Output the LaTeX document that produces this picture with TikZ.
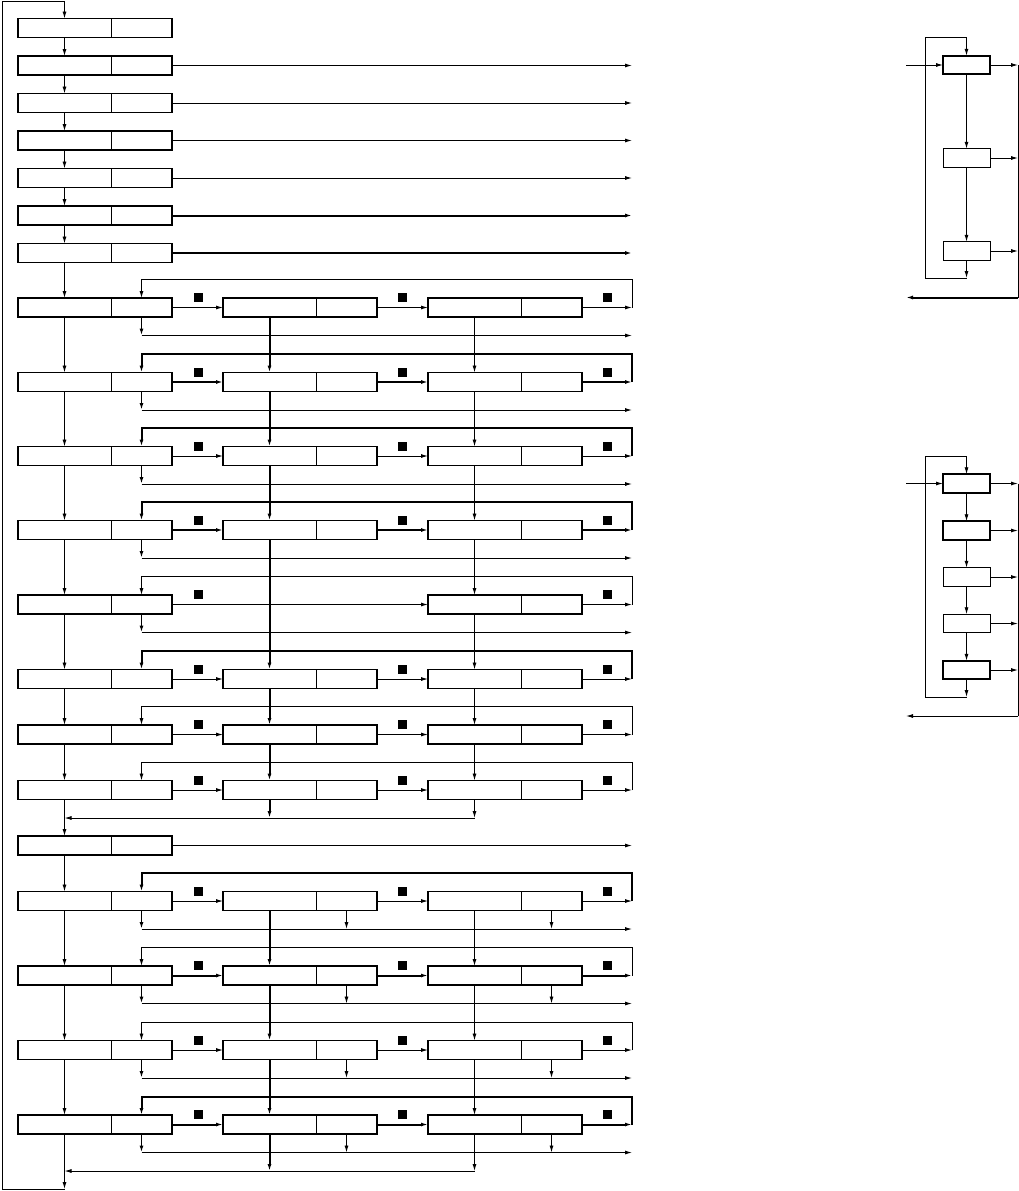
\documentclass[tikz,border=0pt]{standalone}
\usetikzlibrary{arrows.meta,calc}
\tikzset{
  x=1pt, y=-1pt,
  part/.style={draw, line width=0.8pt, minimum height=19pt, inner sep=0pt, outer sep=0pt, anchor=west},
  boxframe/.style={line width=1.3pt},
  ar/.style={-{Latex[length=7pt,width=4pt]}, line width=0.9pt},
  mar/.style={-{Latex[length=7pt,width=4pt]}, line width=1.4pt},
  tar/.style={-{Latex[length=7pt,width=4pt]}, line width=2pt},
  ln/.style={line width=0.9pt},
  tln/.style={line width=2pt},
  sq/.style={fill=black, minimum size=9pt, inner sep=0pt},
  rbox/.style={draw, minimum width=47pt, minimum height=18.5pt, inner sep=0pt, outer sep=0pt},
}
\newcommand\tbox[3]{%
  \node[part, minimum width=93pt] (#1a) at (#2,#3) {};
  \node[part, minimum width=61pt] (#1b) at (#1a.east) {};
  \draw[boxframe] (#1a.north west) rectangle (#1b.south east);
}
\newcommand\triorow[4]{%
  \tbox{S#1}{223}{#2}
  \tbox{T#1}{428}{#2}
  \draw[#3] (L#1b.east) -- (S#1a.west);
  \draw[#3] (S#1b.east) -- (T#1a.west);
  \draw[#3] (T#1b.east) -- (T#1b.east -| E);
  \draw[#4] (T#1b.east -| E) -- ++(0,-28) -| (L#1b.north);
  \node[sq] (qa#1) at (198,#2-10) {};
  \node[sq] (qb#1) at (402.5,#2-10) {};
  \node[sq] (qc#1) at (607,#2-10) {};
}
\newcommand\outrow[2]{%
  \coordinate (o#1) at (632,#2+28);
  \draw[mar] (L#1b.south) -- (L#1b.south |- o#1);
  \draw[ar] (L#1b.south |- o#1) -- (o#1);
}
\begin{document}
\begin{tikzpicture}
\useasboundingbox (0,0) rectangle (1019,1191);
\coordinate (E) at (632,0);
% ---------- left column ----------
\tbox{L1}{18}{28}
\tbox{L2}{18}{65.5}
\tbox{L3}{18}{103}
\tbox{L4}{18}{140.5}
\tbox{L5}{18}{178}
\tbox{L6}{18}{215.5}
\tbox{L7}{18}{253}
\tbox{L8}{18}{307.5}
\tbox{L9}{18}{382}
\tbox{L10}{18}{456}
\tbox{L11}{18}{530}
\tbox{L12}{18}{604.5}
\tbox{L13}{18}{679}
\tbox{L14}{18}{734.5}
\tbox{L15}{18}{790}
\tbox{L16}{18}{845.5}
\tbox{L17}{18}{901}
\tbox{L18}{18}{975.5}
\tbox{L19}{18}{1050}
\tbox{L20}{18}{1124.5}
\foreach \i [count=\j from 2] in {1,...,19} {\draw[ar] (L\i a.south) -- (L\j a.north);}
% outer loop
\coordinate (B) at (64.5,1189);
\coordinate (C1) at (2.5,1189);
\coordinate (C2) at (2.5,1);
\draw[ar] (L20a.south) -- (B);
\draw[ar] (B) -- (C1) -- (C2) -| (L1a.north);
% single outputs
\foreach \i in {2,3,4,5,16} {\draw[ar] (L\i b.east) -- (L\i b.east -| E);}
\foreach \i in {6,7} {\draw[tar] (L\i b.east) -- (L\i b.east -| E);}
% ---------- three-box rows ----------
\triorow{8}{307.5}{ar}{ar}
\triorow{9}{382}{tar}{tar}
\triorow{10}{456}{ar}{tar}
\triorow{11}{530}{tar}{tar}
% row 12
\tbox{T12}{428}{604.5}
\draw[ar] (L12b.east) -- (T12a.west);
\draw[ar] (T12b.east) -- (T12b.east -| E);
\draw[ar] (T12b.east -| E) -- ++(0,-28) -| (L12b.north);
\node[sq] (qa12) at (198,594.5) {};
\node[sq] (qc12) at (607,594.5) {};
\triorow{13}{679}{ar}{tar}
\triorow{14}{734.5}{ar}{ar}
\triorow{15}{790}{ar}{ar}
\triorow{17}{901}{ar}{tar}
\triorow{18}{975.5}{tar}{ar}
\triorow{19}{1050}{ar}{ar}
\triorow{20}{1124.5}{tar}{tar}
% output lines
\outrow{8}{307.5}
\outrow{9}{382}
\outrow{10}{456}
\outrow{11}{530}
\outrow{12}{604.5}
\outrow{17}{901}
\outrow{18}{975.5}
\outrow{19}{1050}
\outrow{20}{1124.5}
\foreach \i in {17,18,19,20} {
  \draw[ar] (S\i b.south) -- (S\i b.south |- o\i);
  \draw[ar] (T\i b.south) -- (T\i b.south |- o\i);
}
% vertical columns, first group
\coordinate (K15) at (64.5,818);
\draw[tar] (S8a.south) -- (S9a.north);
\draw[tar] (S9a.south) -- (S10a.north);
\draw[tar] (S10a.south) -- (S11a.north);
\draw[tar] (S11a.south) -- (S13a.north);
\draw[tar] (S13a.south) -- (S14a.north);
\draw[tar] (S14a.south) -- (S15a.north);
\draw[tar] (S15a.south) -- (S15a.south |- K15);
\draw[ar] (T8a.south) -- (T9a.north);
\draw[ar] (T9a.south) -- (T10a.north);
\draw[ar] (T10a.south) -- (T11a.north);
\draw[ar] (T11a.south) -- (T12a.north);
\draw[ar] (T12a.south) -- (T13a.north);
\draw[ar] (T13a.south) -- (T14a.north);
\draw[ar] (T14a.south) -- (T15a.north);
\draw[ar] (T15a.south) -- (T15a.south |- K15);
\draw[ar] (T15a.south |- K15) -- (K15);
% vertical columns, second group
\coordinate (K20) at (64.5,1171);
\draw[tar] (S17a.south) -- (S18a.north);
\draw[tar] (S18a.south) -- (S19a.north);
\draw[tar] (S19a.south) -- (S20a.north);
\draw[tar] (S20a.south) -- (S20a.south |- K20);
\draw[ar] (T17a.south) -- (T18a.north);
\draw[ar] (T18a.south) -- (T19a.north);
\draw[ar] (T19a.south) -- (T20a.north);
\draw[ar] (T20a.south) -- (T20a.south |- K20);
\draw[ar] (T20a.south |- K20) -- (K20);
% ---------- right diagram 1 ----------
\coordinate (V) at (1018,0);
\node[rbox, line width=1.6pt] (R1) at (966.5,65) {};
\node[rbox, line width=1pt] (R2) at (966.5,158) {};
\node[rbox, line width=1pt] (R3) at (966.5,251) {};
\coordinate (i1) at (906,65);
\draw[ar] (i1) -- (R1.west);
\draw[ar] (R1.south) -- (R2.north);
\draw[ar] (R2.south) -- (R3.north);
\foreach \b in {R1,R2,R3} {\draw[ar] (\b.east) -- (\b.east -| V);}
\coordinate (ob1) at (906,297.5);
\draw[ln] (R1.east -| V) -- (V |- ob1);
\draw[tar] (V |- ob1) -- (ob1);
\coordinate (f1) at (966.5,278);
\coordinate (t1) at (925,37);
\draw[ar] (R3.south) -- (f1);
\draw[ar] (f1) -| (t1) -| (R1.north);
% ---------- right diagram 2 ----------
\node[rbox, line width=1.6pt] (P1) at (966.5,483.5) {};
\node[rbox, line width=1.6pt] (P2) at (966.5,530.5) {};
\node[rbox, line width=1pt] (P3) at (966.5,577) {};
\node[rbox, line width=1pt] (P4) at (966.5,623.5) {};
\node[rbox, line width=1.6pt] (P5) at (966.5,670) {};
\coordinate (i2) at (906,483.5);
\draw[ar] (i2) -- (P1.west);
\draw[ar] (P1.south) -- (P2.north);
\draw[ar] (P2.south) -- (P3.north);
\draw[ar] (P3.south) -- (P4.north);
\draw[ar] (P4.south) -- (P5.north);
\foreach \b in {P1,P2,P3,P4,P5} {\draw[ar] (\b.east) -- (\b.east -| V);}
\coordinate (ob2) at (906,716);
\draw[ln] (P1.east -| V) -- (V |- ob2);
\draw[ar] (V |- ob2) -- (ob2);
\coordinate (f2) at (966.5,697);
\coordinate (t2) at (925,456);
\draw[ar] (P5.south) -- (f2);
\draw[ar] (f2) -| (t2) -| (P1.north);
\end{tikzpicture}
\end{document}
